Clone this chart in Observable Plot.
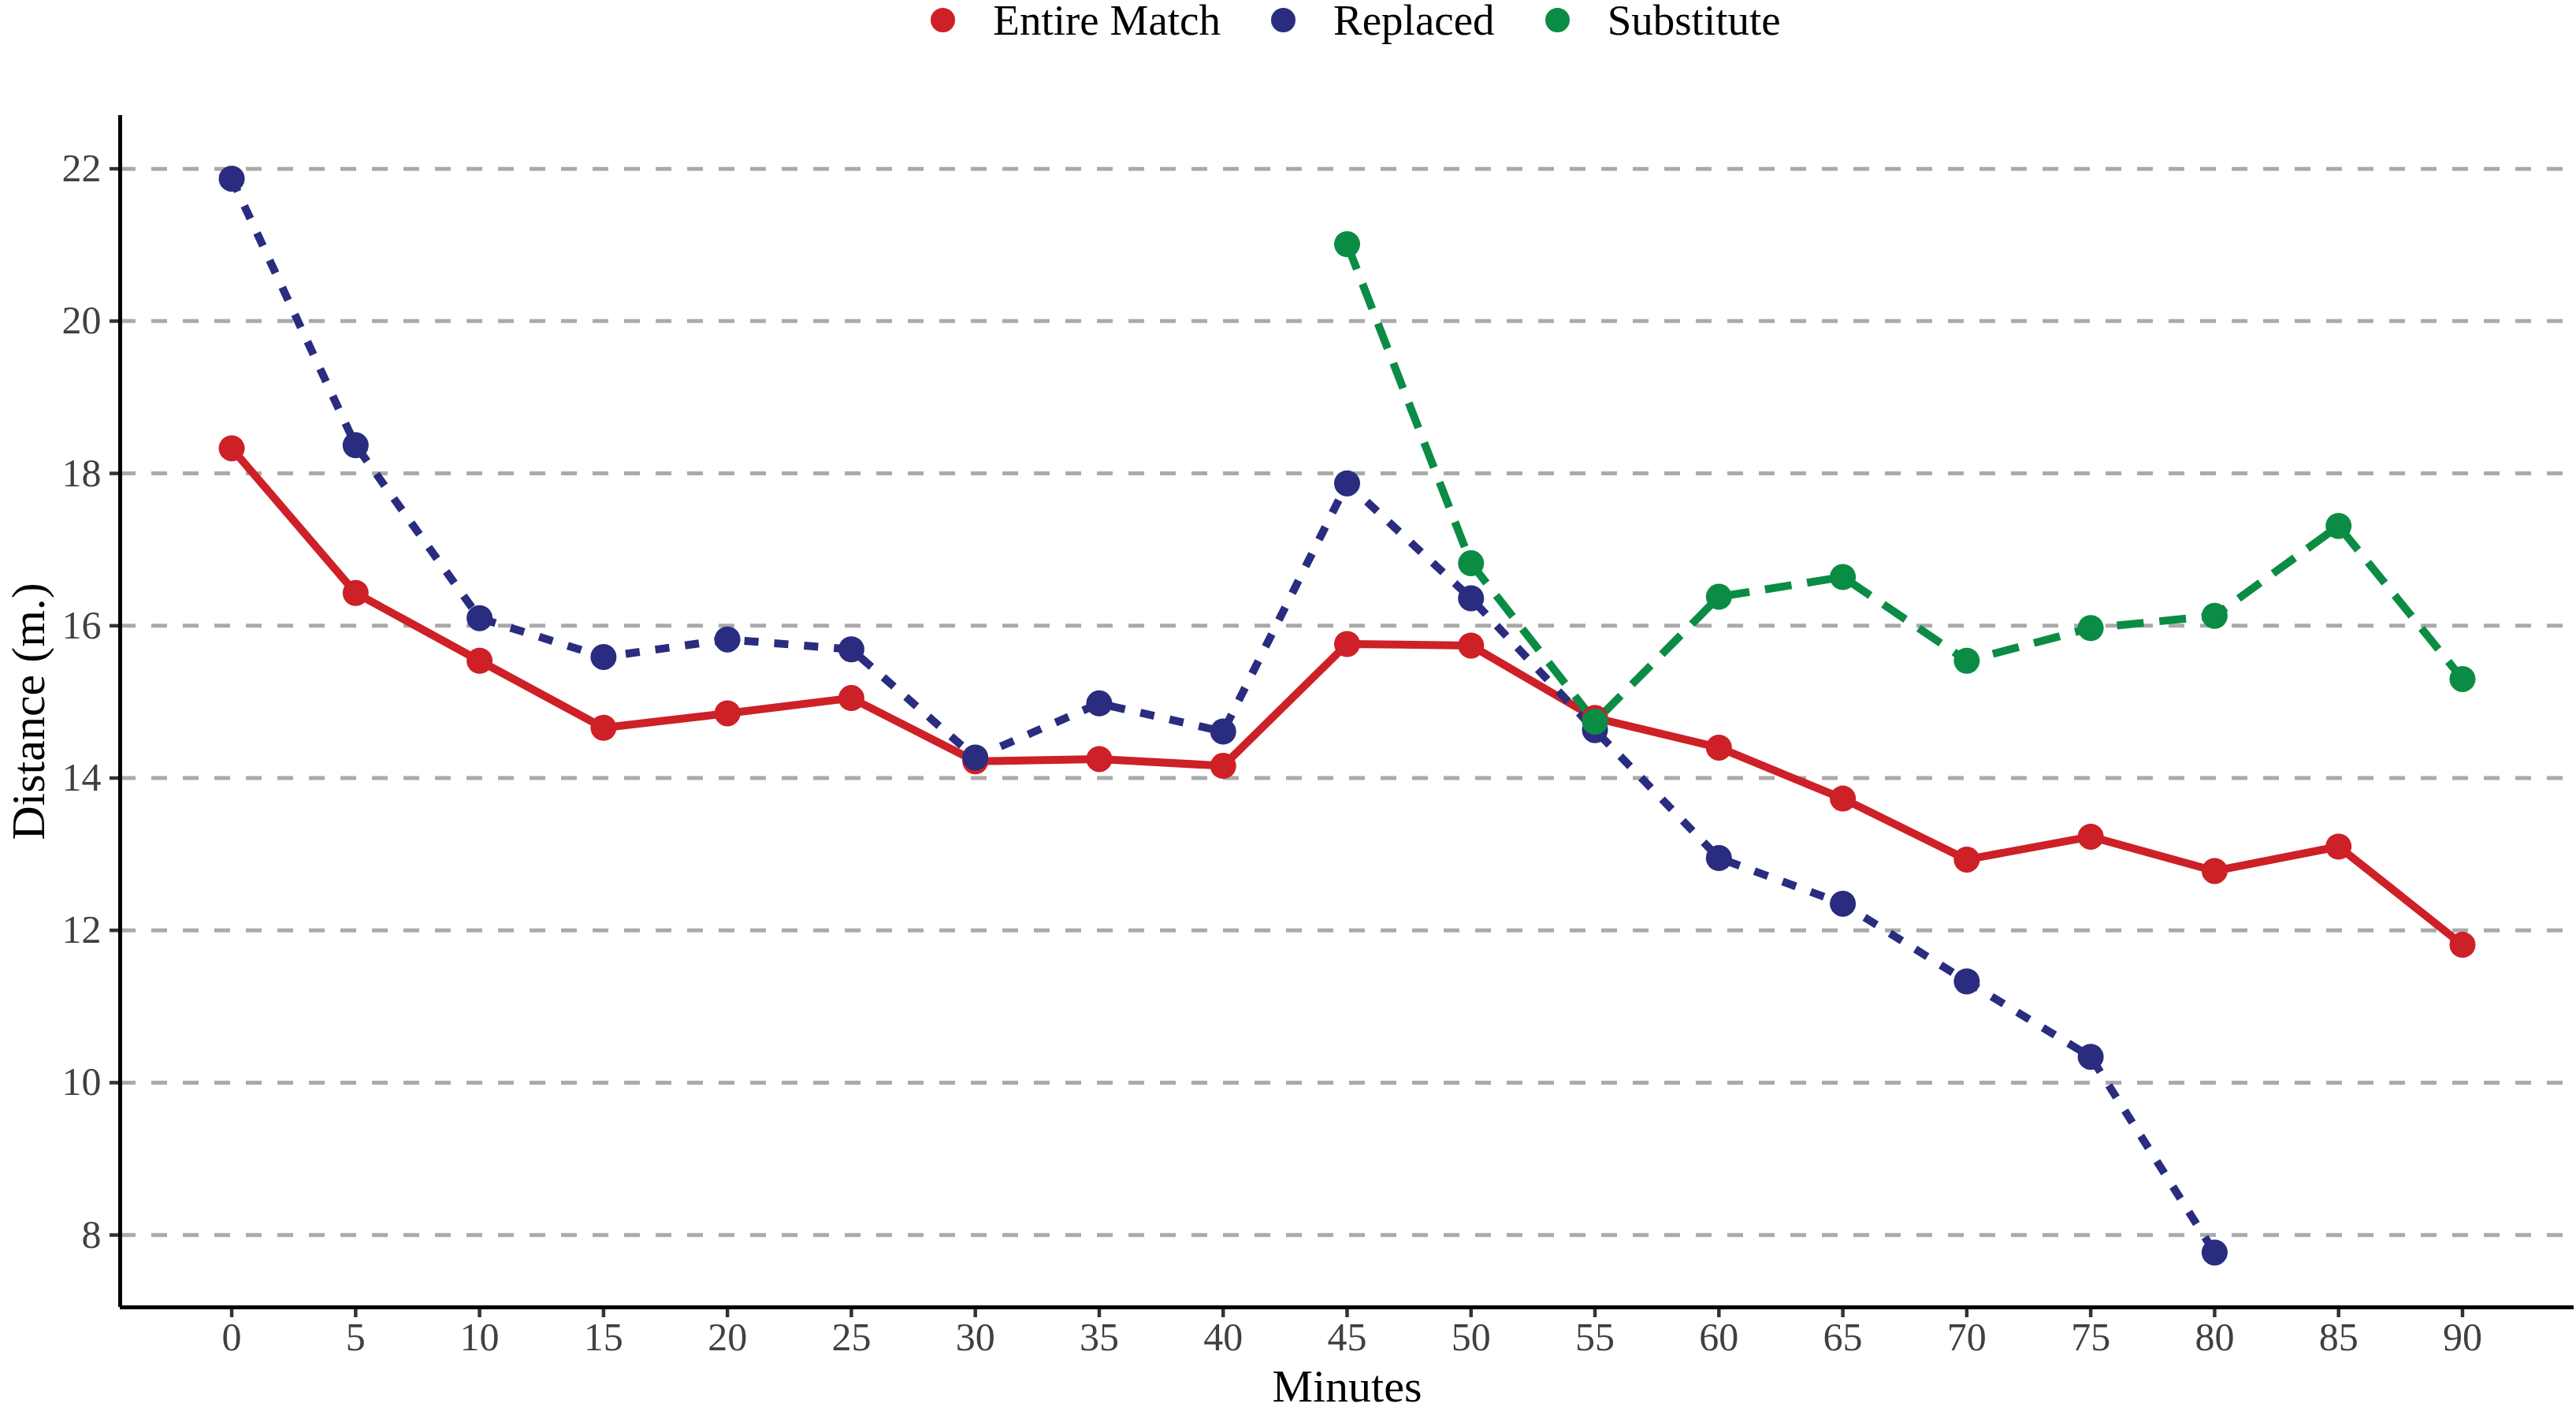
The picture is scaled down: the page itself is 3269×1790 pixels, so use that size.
<!DOCTYPE html>
<html>
<head>
<meta charset="utf-8">
<script src="https://cdn.jsdelivr.net/npm/d3@7"></script>
<script src="https://cdn.jsdelivr.net/npm/@observablehq/plot@0.6"></script>
<style>
  html, body { margin: 0; padding: 0; background: #fff; }
  body { width: 3269px; height: 1790px; overflow: hidden; font-family: "Liberation Serif", "DejaVu Serif", serif; }
  #legend { height: 50px; display: flex; align-items: center; justify-content: center; padding-left: 172px; box-sizing: border-box; width: 3269px; }
  .item { display: flex; align-items: center; margin: 0 32px; font-size: 55px; color: #000; }
  .dot { width: 31px; height: 31px; border-radius: 50%; margin-right: 48px; }
  svg { display: block; }
</style>
</head>
<body>
<div id="legend"></div>
<div id="chart"></div>
<script>
// ---- data ----
const groups = ["Entire Match", "Replaced", "Substitute"];
const colors = ["#CD2027", "#292C7F", "#0B8C44"];

const minutesEntire = [0, 5, 10, 15, 20, 25, 30, 35, 40, 45, 50, 55, 60, 65, 70, 75, 80, 85, 90];
const entireMatch   = [18.33, 16.43, 15.54, 14.66, 14.85, 15.05, 14.22, 14.25, 14.16, 15.76, 15.74, 14.79, 14.40, 13.73, 12.93, 13.23, 12.78, 13.10, 11.81];

const minutesReplaced = [0, 5, 10, 15, 20, 25, 30, 35, 40, 45, 50, 55, 60, 65, 70, 75, 80];
const replaced        = [21.87, 18.37, 16.10, 15.59, 15.82, 15.69, 14.27, 14.98, 14.61, 17.87, 16.36, 14.63, 12.95, 12.35, 11.33, 10.34, 7.77];

const minutesSubstitute = [45, 50, 55, 60, 65, 70, 75, 80, 85, 90];
const substitute        = [21.01, 16.82, 14.74, 16.38, 16.64, 15.54, 15.97, 16.13, 17.31, 15.30];

const xTicks = [0, 5, 10, 15, 20, 25, 30, 35, 40, 45, 50, 55, 60, 65, 70, 75, 80, 85, 90];
const yTicks = [8, 10, 12, 14, 16, 18, 20, 22];

// ---- build tables ----
const rows = (ms, vs, g) => ms.map((m, i) => ({minute: m, value: vs[i], group: g}));
const dEntire = rows(minutesEntire, entireMatch, groups[0]);
const dReplaced = rows(minutesReplaced, replaced, groups[1]);
const dSubstitute = rows(minutesSubstitute, substitute, groups[2]);

const xDomain = [-4.5, 94.5];
const yDomain = [7.05, 22.7];

// legend
const legend = document.getElementById("legend");
groups.forEach((g, i) => {
  const it = document.createElement("div");
  it.className = "item";
  const dot = document.createElement("span");
  dot.className = "dot";
  dot.style.background = colors[i];
  const t = document.createElement("span");
  t.textContent = g;
  it.appendChild(dot);
  it.appendChild(t);
  legend.appendChild(it);
});

const lineW = 10;
const chart = Plot.plot({
  width: 3269,
  height: 1740,
  marginLeft: 152,
  marginRight: 3,
  marginTop: 96,
  marginBottom: 132,
  style: {fontFamily: "Liberation Serif", background: "#fff"},
  x: {domain: xDomain},
  y: {domain: yDomain},
  color: {domain: groups, range: colors},
  marks: [
    Plot.ruleY(yTicks, {stroke: "#aaaaaa", strokeWidth: 5, strokeDasharray: "20,20"}),
    Plot.axisX(xTicks, {tickSize: 13, tickPadding: 6, fontSize: 50, fill: "#404040", stroke: "#333", strokeWidth: 4.5, label: null, tickFormat: d3.format("d")}),
    Plot.axisY(yTicks, {tickSize: 13, tickPadding: 11, fontSize: 50, fill: "#404040", stroke: "#333", strokeWidth: 4.5, label: null, tickFormat: d3.format("d")}),
    Plot.ruleY([yDomain[0]], {stroke: "#000", strokeWidth: 5}),
    Plot.ruleX([xDomain[0]], {y1: yDomain[0], y2: yDomain[1], stroke: "#000", strokeWidth: 5}),
    Plot.line(dEntire, {x: "minute", y: "value", stroke: colors[0], strokeWidth: lineW}),
    Plot.line(dReplaced, {x: "minute", y: "value", stroke: colors[1], strokeWidth: lineW, strokeDasharray: "18,20", strokeLinecap: "butt"}),
    Plot.line(dSubstitute, {x: "minute", y: "value", stroke: colors[2], strokeWidth: lineW, strokeDasharray: "34,20", strokeLinecap: "butt"}),
    Plot.dot(dEntire, {x: "minute", y: "value", fill: colors[0], r: 16.5}),
    Plot.dot(dReplaced, {x: "minute", y: "value", fill: colors[1], r: 16.5}),
    Plot.dot(dSubstitute, {x: "minute", y: "value", fill: colors[2], r: 16.5}),
    Plot.text(["Minutes"], {text: d => d, frameAnchor: "bottom", dy: 119, lineAnchor: "bottom", fontSize: 58, fill: "#000"}),
    Plot.text(["Distance (m.)"], {text: d => d, frameAnchor: "left", textAnchor: "middle", dx: -139, rotate: -90, lineAnchor: "top", fontSize: 60, fill: "#000"})
  ]
});
document.getElementById("chart").appendChild(chart);
</script>
</body>
</html>
